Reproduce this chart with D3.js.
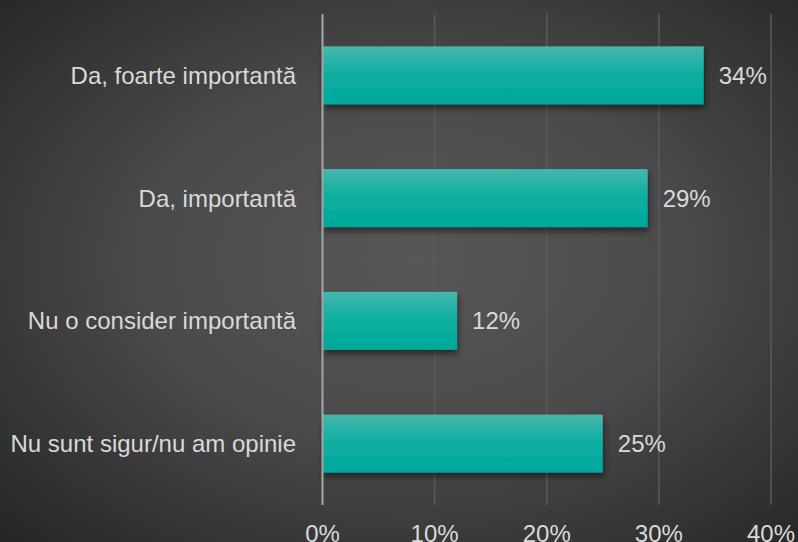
<!DOCTYPE html>
<html><head><meta charset="utf-8">
<script src="https://cdn.jsdelivr.net/npm/d3@7"></script>
<style>html,body{margin:0;padding:0;background:#3a3a3a;}svg{display:block;}</style>
</head><body>
<script>
const categories = ["Da, foarte importantă", "Da, importantă", "Nu o consider importantă", "Nu sunt sigur/nu am opinie"];
const values = [34, 29, 12, 25];
const ticks = [0, 10, 20, 30, 40];

const W = 798, H = 542;
const svg = d3.select("body").append("svg").attr("width", W).attr("height", H);
const defs = svg.append("defs");
const bg = defs.append("radialGradient").attr("id","bg").attr("cx","52%").attr("cy","48%").attr("r","75%");
bg.append("stop").attr("offset","0%").attr("stop-color","#575757");
bg.append("stop").attr("offset","45%").attr("stop-color","#4a4a4a");
bg.append("stop").attr("offset","100%").attr("stop-color","#242424");
const bar = defs.append("linearGradient").attr("id","bar").attr("x1",0).attr("y1",0).attr("x2",0).attr("y2",1);
bar.append("stop").attr("offset","0%").attr("stop-color","#47b6ab");
bar.append("stop").attr("offset","50%").attr("stop-color","#0aaea1");
bar.append("stop").attr("offset","100%").attr("stop-color","#02a89b");
const sh = defs.append("filter").attr("id","sh").attr("x","-10%").attr("y","-20%").attr("width","130%").attr("height","160%");
sh.append("feDropShadow").attr("dx",1).attr("dy",4).attr("stdDeviation",3).attr("flood-color","#000").attr("flood-opacity",0.5);

svg.append("rect").attr("width",W).attr("height",H).attr("fill","url(#bg)");

const x = d3.scaleLinear().domain([0,40]).range([322.5, 771]);
const y = d3.scaleBand().domain(categories).range([14, 505]).paddingInner(0.527).paddingOuter(0.2635);

// gridlines
svg.append("g").selectAll("line").data(ticks.slice(1)).join("line")
  .attr("x1", d=>x(d)).attr("x2", d=>x(d)).attr("y1",14).attr("y2",505)
  .attr("stroke","#5a5a5a").attr("stroke-width",1.5);

// bars
svg.append("g").selectAll("rect").data(values).join("rect")
  .attr("x", x(0)).attr("y", (d,i)=>y(categories[i]))
  .attr("width", d=>x(d)-x(0)).attr("height", y.bandwidth())
  .attr("fill","url(#bar)").attr("filter","url(#sh)");

// axis line
svg.append("line").attr("x1",x(0)).attr("x2",x(0)).attr("y1",14).attr("y2",505)
  .attr("stroke","#a6a6a6").attr("stroke-width",2);

const font = "'Liberation Sans', Arial, sans-serif";
const fs = 24;
// category labels
svg.append("g").selectAll("text").data(categories).join("text")
  .attr("x", 296).attr("y", d=>y(d)+y.bandwidth()/2).attr("dy","0.35em")
  .attr("text-anchor","end").attr("font-family",font).attr("font-size",fs)
  .attr("fill","#d9d9d9").text(d=>d);

// value labels
svg.append("g").selectAll("text").data(values).join("text")
  .attr("x", d=>x(d)+15).attr("y",(d,i)=>y(categories[i])+y.bandwidth()/2).attr("dy","0.35em")
  .attr("font-family",font).attr("font-size",fs).attr("fill","#d9d9d9").text(d=>d+"%");

// tick labels
svg.append("g").selectAll("text").data(ticks).join("text")
  .attr("x", d=>x(d)).attr("y", 542).attr("text-anchor","middle")
  .attr("font-family",font).attr("font-size",fs).attr("fill","#d9d9d9").text(d=>d+"%");
</script>
</body></html>
